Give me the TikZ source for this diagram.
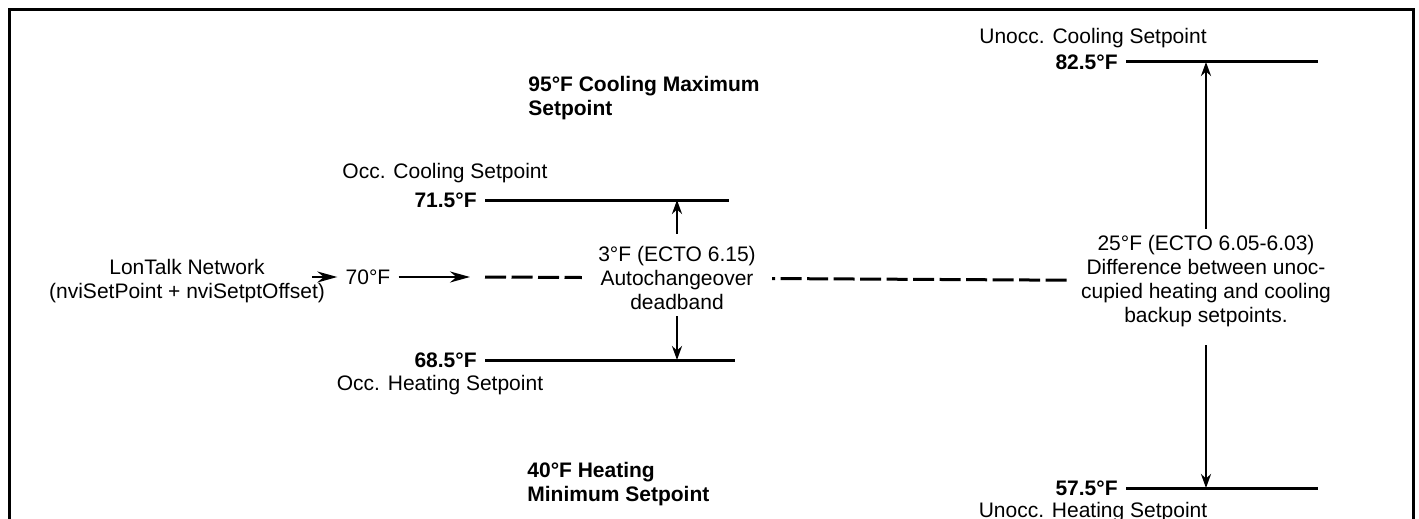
\documentclass[tikz,border=0pt]{standalone}
\usepackage{fontspec}
\setmainfont{Liberation Sans}
\usetikzlibrary{arrows.meta}

\begin{document}
\begin{tikzpicture}[x=0.5pt, y=-0.5pt, >={Stealth[length=7pt, width=5pt]}, font=\fontsize{10.5}{12}\selectfont]
\tikzset{
  setline/.style={line width=1.5pt},
  dashline/.style={line width=1.5pt, dash pattern=on 10.5pt off 2.75pt},
  pointer/.style={->, line width=1.2pt},
  longpointer/.style={-{Stealth[length=10pt, width=5.5pt]}, line width=1.2pt},
  valbox/.style={font=\fontsize{10.5}{12}\selectfont\bfseries, inner xsep=4pt, inner ysep=0pt},
  limitbox/.style={align=left, anchor=west, font=\fontsize{10.5}{12}\selectfont\bfseries, inner sep=0pt},
  notebox/.style={align=center, inner xsep=8pt, inner ysep=3pt}
}
\useasboundingbox (0,0) rectangle (1419,519);
\clip (0,0) rectangle (1419,519);
\draw[line width=1.5pt] (9,540) -- (9,10) -- (1413,10) -- (1413,540);

% left input
\node[align=center] (lontalk) at (187,281) {LonTalk Network\\(nviSetPoint + nviSetptOffset)};
\coordinate (lonout) at (312,277);
\node[inner xsep=4pt] (sp70) at (368,277) {70°F};
\coordinate (arrowend) at (470,277);
\coordinate (dashstart) at (485,277);

% occupied setpoints
\node (occcool) at (445,173) {Occ. Cooling Setpoint};
\node[valbox, anchor=east] (t715) at (485,200) {71.5°F};
\coordinate (occcoolend) at (729,200);
\node[valbox, anchor=east] (t685) at (485,360) {68.5°F};
\coordinate (occheatend) at (735,360);
\node (occheat) at (440,385) {Occ. Heating Setpoint};
\node[notebox] (deadband) at (677,278) {3°F (ECTO 6.15)\\Autochangeover\\deadband};

% limits
\node[limitbox] (coolmax) at (528,98) {95°F Cooling Maximum\\Setpoint};
\node[limitbox] (heatmin) at (527,484) {40°F Heating\\Minimum Setpoint};

% unoccupied setpoints
\node (unocccool) at (1093,38) {Unocc. Cooling Setpoint};
\node[valbox, anchor=east] (t825) at (1126,62) {82.5°F};
\coordinate (unocccoolend) at (1318,62);
\node[valbox, anchor=east] (t575) at (1126,488) {57.5°F};
\coordinate (unoccheatend) at (1318,488);
\node (unoccheat) at (1093,512) {Unocc. Heating Setpoint};
\node[notebox, inner xsep=7pt] (unoccdiff) at (1206,281) {25°F (ECTO 6.05-6.03)\\Difference between unoc-\\cupied heating and cooling\\backup setpoints.};

\draw[longpointer] (lonout) -- (sp70);
\draw[longpointer] (sp70) -- (arrowend);
\draw[dashline] (dashstart) -- (deadband);
\draw[dashline] (unoccdiff) -- (deadband);
\draw[setline] (t715) -- (occcoolend);
\draw[setline] (t685) -- (occheatend);
\draw[setline] (t825) -- (unocccoolend);
\draw[setline] (t575) -- (unoccheatend);
\draw[pointer, shorten <=3pt] (deadband.north) -- (deadband.north |- t715.east);
\draw[pointer] (deadband.south) -- (deadband.south |- t685.east);
\draw[pointer] (unoccdiff.north) -- (unoccdiff.north |- t825.east);
\draw[pointer, shorten <=6pt] (unoccdiff.south) -- (unoccdiff.south |- t575.east);
\end{tikzpicture}
\end{document}
